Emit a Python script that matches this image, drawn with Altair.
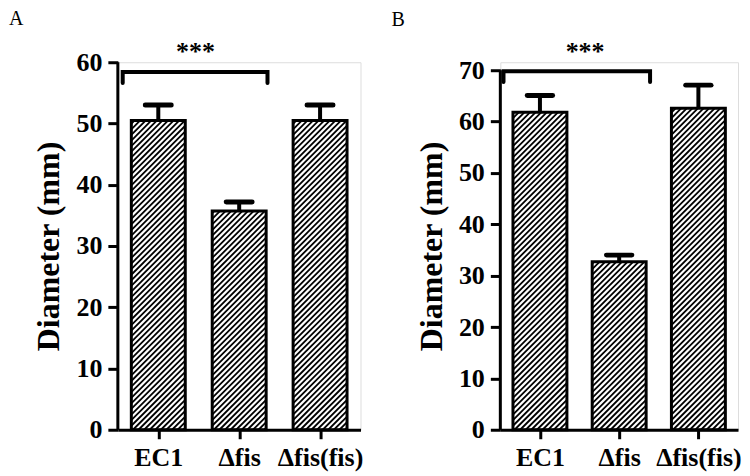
import json
import altair as alt
import pandas as pd

# ---- data ----
categories = ["EC1", "Δfis", "Δfis(fis)"]
a_means = [50.5, 35.7, 50.5]
a_errs = [2.5, 1.5, 2.5]
b_means = [61.8, 32.7, 62.6]
b_errs = [3.3, 1.3, 4.5]
sig_label = "***"

FONT = "Liberation Serif"
PLOT_H = 368


def panel(means, errs, axis_max, axis_px, plot_w, letter, bracket_x, bracket_y, star_xy):
    n = len(categories)
    dom_top = axis_max * PLOT_H / axis_px
    ux = plot_w / n
    uy = PLOT_H / dom_top
    bw = 54.0 / ux
    df = pd.DataFrame({
        "idx": list(range(1, n + 1)),
        "cat": categories,
        "mean": means,
        "err": errs,
    })
    df["hi"] = df["mean"] + df["err"]
    df["left"] = df["idx"] - bw / 2
    df["right"] = df["idx"] + bw / 2
    df["cl"] = df["idx"] - 0.16
    df["cr"] = df["idx"] + 0.16

    xs = alt.Scale(domain=[0.5, n + 0.5], nice=False, zero=False)
    ys = alt.Scale(domain=[0, dom_top], nice=False, zero=True)
    label_expr = json.dumps(categories, ensure_ascii=False) + "[datum.value - 1]"

    xaxis = alt.Axis(
        values=list(range(1, n + 1)), labelExpr=label_expr, title=None, grid=False,
        tickSize=9, tickWidth=3, tickColor="black", domainWidth=3, domainColor="black",
        labelFont=FONT, labelFontSize=26, labelFontWeight="bold", labelColor="black",
        labelPadding=6, labelAngle=0)
    yaxis = alt.Axis(
        values=list(range(0, axis_max + 1, 10)), title="Diameter (mm)", grid=False,
        domain=False, tickSize=10, tickWidth=3, tickColor="black",
        labelFont=FONT, labelFontSize=26, labelFontWeight="bold", labelColor="black",
        labelPadding=6, titleFont=FONT, titleFontSize=32, titleFontWeight="bold",
        titleColor="black", titlePadding=10)

    base = alt.Chart(df)

    # hatching lines, computed inside each bar
    step = 5.6
    wpx = bw * ux
    hatch = base.transform_calculate(
        hpx=f"datum.mean * {uy}",
    ).transform_calculate(
        offs=f"sequence({-wpx + 2.0}, datum.hpx, {step})"
    ).transform_flatten(["offs"], as_=["c"]).transform_calculate(
        u1="max(0, -datum.c)",
        u2=f"min({wpx}, datum.hpx - datum.c)",
    ).transform_filter("datum.u2 > datum.u1").transform_calculate(
        hx1=f"datum.left + datum.u1 / {ux}",
        hx2=f"datum.left + datum.u2 / {ux}",
        hy1=f"(datum.u1 + datum.c) / {uy}",
        hy2=f"(datum.u2 + datum.c) / {uy}",
    ).mark_rule(color="black", strokeWidth=1.8).encode(
        x=alt.X("hx1:Q", scale=xs, axis=xaxis),
        x2="hx2:Q",
        y=alt.Y("hy1:Q", scale=ys, axis=yaxis),
        y2="hy2:Q",
    )

    errbar = base.mark_rule(color="black", strokeWidth=4).encode(
        x=alt.X("idx:Q", scale=xs, axis=xaxis),
        y=alt.Y("mean:Q", scale=ys, axis=yaxis),
        y2="hi:Q",
    )
    cap = base.mark_rule(color="black", strokeWidth=5, strokeCap="round").encode(
        x=alt.X("cl:Q", scale=xs, axis=xaxis),
        x2="cr:Q",
        y=alt.Y("hi:Q", scale=ys, axis=yaxis),
    )
    outline = base.mark_rect(fill="white", fillOpacity=0, stroke="black", strokeWidth=3).encode(
        x=alt.X("left:Q", scale=xs, axis=xaxis),
        x2="right:Q",
        y=alt.Y("mean:Q", scale=ys, axis=yaxis),
        y2=alt.datum(0),
    )
    yline = alt.Chart(pd.DataFrame({"a": [0]})).mark_rule(color="black", strokeWidth=3).encode(
        x=alt.X("x0:Q", scale=xs, axis=xaxis),
        y=alt.Y("y0:Q", scale=ys, axis=yaxis),
        y2="y1:Q",
    ).transform_calculate(x0="0.5", y0="0", y1=str(axis_max))

    bdf = pd.DataFrame({
        "bx": [bracket_x[0], bracket_x[0], bracket_x[1], bracket_x[1]],
        "by": [bracket_y[0], bracket_y[1], bracket_y[1], bracket_y[0]],
        "o": [0, 1, 2, 3],
    })
    bracket = alt.Chart(bdf).mark_line(color="black", strokeWidth=4, strokeJoin="miter",
                                       strokeCap="round", clip=False).encode(
        x=alt.X("bx:Q", scale=xs, axis=xaxis),
        y=alt.Y("by:Q", scale=ys, axis=yaxis),
        order="o:Q",
    )
    sdf = pd.DataFrame({"sx": [star_xy[0]], "sy": [star_xy[1]], "t": [sig_label]})
    star = alt.Chart(sdf).mark_text(font=FONT, fontSize=26, fontWeight="bold", color="black",
                                    baseline="alphabetic", align="center").encode(
        x=alt.X("sx:Q", scale=xs, axis=xaxis),
        y=alt.Y("sy:Q", scale=ys, axis=yaxis),
        text="t:N",
    )

    return alt.layer(hatch, errbar, cap, outline, yline, bracket, star).properties(
        width=plot_w, height=PLOT_H,
        title=alt.Title(letter, anchor="start", frame="bounds", font=FONT, fontSize=20,
                        fontWeight="normal", color="black", offset=10, dx=-24),
    )


pa = panel(a_means, a_errs, 60, 368, 243, "A", (0.56, 2.35), (56.6, 58.4), (1.46, 60.3))
pb = panel(b_means, b_errs, 70, 360, 238, "B", (0.54, 2.39), (67.7, 69.8), (1.57, 71.9))

chart = alt.hconcat(pa, pb, spacing=140, bounds="flush").properties(
    padding={"left": 0, "top": 0, "right": 0, "bottom": 0}
).configure_view(strokeWidth=0).configure(background="white")

chart.save("out.html", embed_options={"renderer": "svg", "actions": False})
